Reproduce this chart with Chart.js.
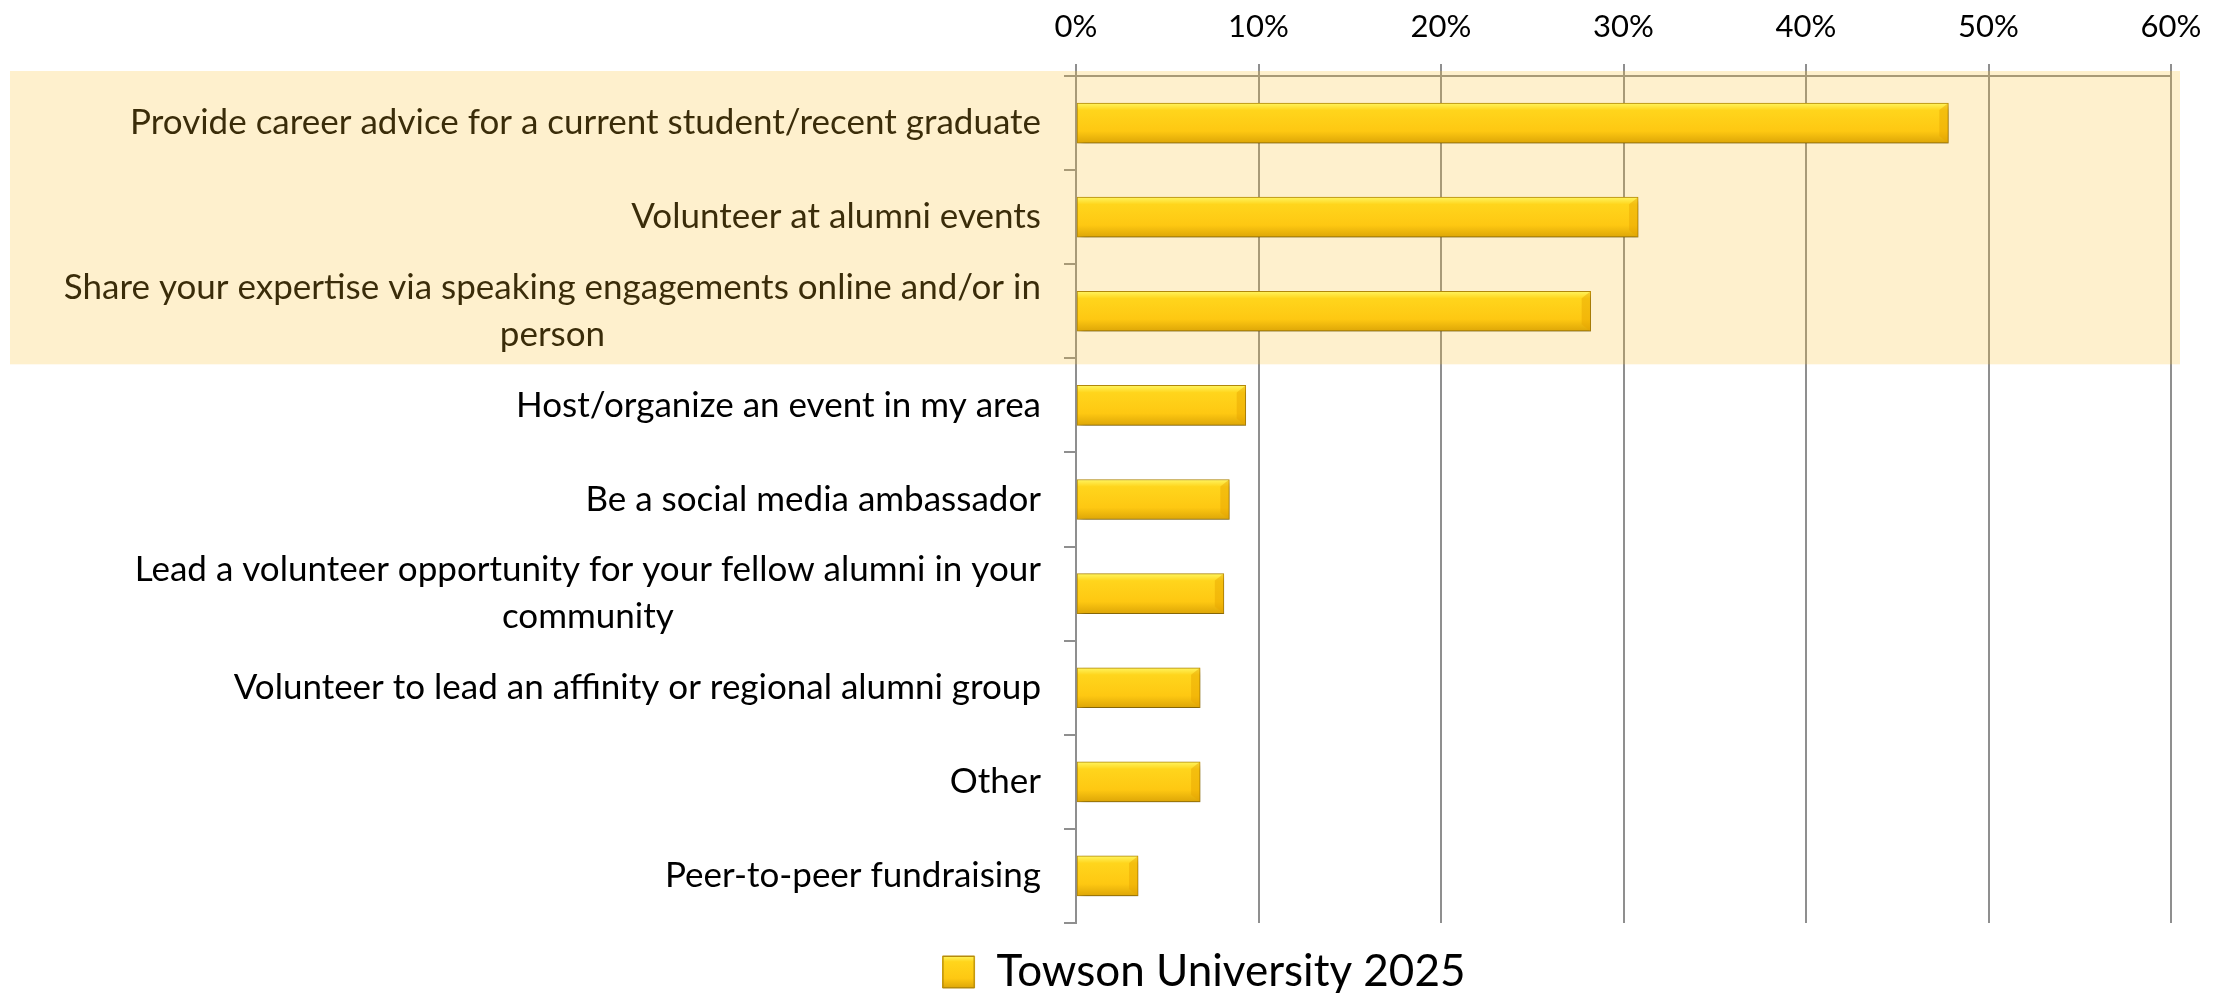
<!DOCTYPE html>
<html>
<head>
<meta charset="utf-8">
<script src="https://cdn.jsdelivr.net/npm/chart.js@4.4.1/dist/chart.umd.min.js"></script>
<style>
    html, body { margin: 0; padding: 0; background: #fff; }
    #wrap { width: 2221px; height: 993px; }
</style>
</head>
<body>
<div id="wrap"><canvas id="chart" width="2221" height="993"></canvas></div>
<script>
// data
var categories = [
    'Provide career advice for a current student/recent graduate',
    'Volunteer at alumni events',
    ['Share your expertise via speaking engagements online and/or in', 'person'],
    'Host/organize an event in my area',
    'Be a social media ambassador',
    ['Lead a volunteer opportunity for your fellow alumni in your', 'community'],
    'Volunteer to lead an affinity or regional alumni group',
    'Other',
    'Peer-to-peer fundraising'
];
var towson2025 = [47.8, 30.8, 28.2, 9.3, 8.4, 8.1, 6.8, 6.8, 3.4];
var seriesName = 'Towson University 2025';
var percentTicks = [0, 10, 20, 30, 40, 50, 60];
var highlighted = [0, 1, 2];

var gridColor = '#8f8f8f';
var barYellow = '#FFC914';

function yellowGradient(c, top, bottom) {
    var g = c.createLinearGradient(0, top, 0, bottom);
    g.addColorStop(0, '#FFF560');
    g.addColorStop(0.18, '#FFD51C');
    g.addColorStop(0.7, '#FEC812');
    g.addColorStop(1, '#DDA607');
    return g;
}

function barFill(ctx) {
    if (ctx.type !== 'data') return barYellow;
    var chart = ctx.chart;
    var y = chart.scales.y ? chart.scales.y.getPixelForValue(ctx.dataIndex) : NaN;
    if (!isFinite(y)) return barYellow;
    return yellowGradient(chart.ctx, y - 20, y + 20);
}

// category labels: block right aligned, lines centred inside the block
var labelsAndBand = {
    id: 'labelsAndBand',
    beforeDatasetsDraw: function (chart) {
        var ctx = chart.ctx;
        var yScale = chart.scales.y;
        var right = yScale.right - 12 - 23;
        ctx.save();
        ctx.font = '35px Lato';
        ctx.fillStyle = '#000';
        ctx.textAlign = 'center';
        ctx.textBaseline = 'middle';
        categories.forEach(function (label, i) {
            var lines = Array.isArray(label) ? label : [label];
            var widest = 0;
            lines.forEach(function (l) {
                widest = Math.max(widest, ctx.measureText(l).width);
            });
            var cy = yScale.getPixelForValue(i);
            lines.forEach(function (l, j) {
                ctx.fillText(l, right - widest / 2, cy + (j - (lines.length - 1) / 2) * 47);
            });
        });

        // highlighted rows
        var band = yScale.getPixelForValue(1) - yScale.getPixelForValue(0);
        var top = yScale.getPixelForValue(highlighted[0]) - band / 2 - 5;
        var bottom = yScale.getPixelForValue(highlighted[highlighted.length - 1]) + band / 2 + 6;
        ctx.fillStyle = 'rgba(252, 190, 40, 0.23)';
        ctx.fillRect(10, top, chart.chartArea.right + 9 - 10, bottom - top);
        ctx.restore();

        ctx.save();
        ctx.shadowColor = 'rgba(0, 0, 0, 0.3)';
        ctx.shadowBlur = 6;
        ctx.shadowOffsetX = 3;
        ctx.shadowOffsetY = 4;
    },
    afterDatasetsDraw: function (chart) {
        var ctx = chart.ctx;
        ctx.restore();
        // bevel at the end of every bar
        var meta = chart.getDatasetMeta(0);
        ctx.save();
        meta.data.forEach(function (bar) {
            var h = bar.height;
            ctx.beginPath();
            ctx.moveTo(bar.x, bar.y - h / 2);
            ctx.lineTo(bar.x, bar.y + h / 2);
            ctx.lineTo(bar.x - 9, bar.y + h / 2 - 7);
            ctx.lineTo(bar.x - 9, bar.y - h / 2 + 7);
            ctx.closePath();
            ctx.fillStyle = 'rgba(230, 165, 0, 0.45)';
            ctx.fill();
        });
        ctx.restore();
    },
    afterDraw: function (chart) {
        // same bevelled look for the legend swatch
        var hit = chart.legend && chart.legend.legendHitBoxes && chart.legend.legendHitBoxes[0];
        if (!hit) return;
        var ctx = chart.ctx;
        var s = 32;
        var top = hit.top + hit.height / 2 - s / 2;
        ctx.save();
        ctx.fillStyle = yellowGradient(ctx, top, top + s);
        ctx.fillRect(hit.left, top, s, s);
        ctx.strokeStyle = '#B58A0A';
        ctx.lineWidth = 1;
        ctx.strokeRect(hit.left + 0.5, top + 0.5, s - 1, s - 1);
        ctx.restore();
    }
};

function buildChart() {
    var ctx = document.getElementById('chart').getContext('2d');
    new Chart(ctx, {
        type: 'bar',
        data: {
            labels: categories,
            datasets: [{
                label: seriesName,
                data: towson2025,
                backgroundColor: barFill,
                borderColor: '#B58A0A',
                borderWidth: 1,
                borderSkipped: false,
                barThickness: 40
            }]
        },
        options: {
            indexAxis: 'y',
            responsive: false,
            animation: false,
            layout: {padding: {left: 237, right: 50, top: 0, bottom: -11}},
            scales: {
                x: {
                    position: 'top',
                    min: percentTicks[0],
                    max: percentTicks[percentTicks.length - 1],
                    afterFit: function (scale) { scale.height = 76; },
                    grid: {color: gridColor, lineWidth: 2, tickLength: 12},
                    border: {color: gridColor, width: 2},
                    ticks: {
                        stepSize: 10,
                        padding: 18,
                        color: '#000',
                        font: {family: 'Lato', size: 31},
                        callback: function (v) { return v + '%'; }
                    }
                },
                y: {
                    afterFit: function (scale) { scale.width = 1076 - 237; },
                    grid: {drawOnChartArea: false, color: gridColor, lineWidth: 2, tickLength: 12, offset: true},
                    border: {color: gridColor, width: 2},
                    ticks: {display: false}
                }
            },
            plugins: {
                tooltip: {enabled: false},
                legend: {
                    position: 'bottom',
                    labels: {
                        color: '#000',
                        font: {family: 'Lato', size: 44},
                        boxWidth: 32,
                        boxHeight: 32,
                        padding: 27
                    }
                }
            }
        },
        plugins: [labelsAndBand]
    });
}

document.fonts.load('35px Lato').then(buildChart, buildChart);
</script>
</body>
</html>
